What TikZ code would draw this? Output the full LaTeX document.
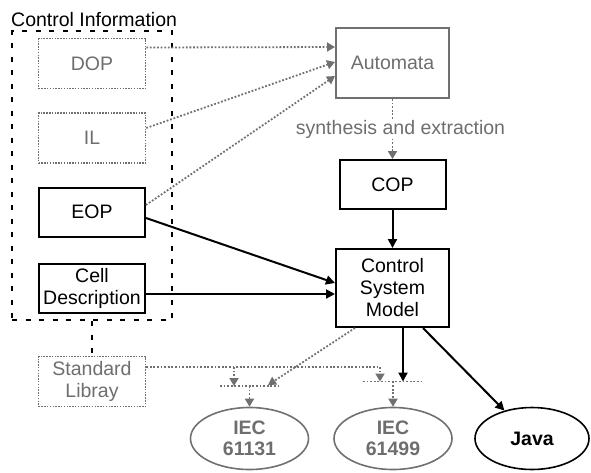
\documentclass[tikz,border=0pt]{standalone}
\usepackage{fontspec}
\setmainfont{Liberation Sans}
\usetikzlibrary{arrows.meta,shapes.geometric,calc}
\definecolor{tgray}{RGB}{110,110,110}
\definecolor{lgray}{RGB}{112,112,112}
\begin{document}
\begin{tikzpicture}[x=1pt,y=-1pt,
  font=\fontsize{19.5}{22}\selectfont,
  box/.style={draw=black,line width=2pt,rectangle,minimum width=106pt,minimum height=49pt,inner sep=1pt,align=center},
  gbox/.style={draw=lgray,line width=1.5pt,dash pattern=on 1.5pt off 1.3pt,rectangle,minimum width=107pt,minimum height=50pt,inner sep=1pt,align=center,text=tgray},
  ell/.style={ellipse,line width=1.6pt,minimum width=118pt,minimum height=62pt,inner sep=0pt,align=center,font=\fontsize{19.5}{21}\selectfont\bfseries},
  blk/.style={line width=2pt,-{Triangle[length=9pt,width=9pt]}},
  gdot/.style={draw=lgray,line width=1.8pt,dash pattern=on 1.8pt off 1.8pt},
  garr/.style={gdot,-{Triangle[length=8pt,width=9pt,fill=lgray]}},
  odash/.style={line width=2pt,dash pattern=on 5pt off 8.5pt}
]
\useasboundingbox (0,0) rectangle (591,472);

% Control information group
\node[anchor=base west,inner sep=0pt] (cilabel) at (11,26) {Control Information};
\node[draw,odash,rectangle,minimum width=160pt,minimum height=289pt,inner sep=0pt] (ci) at (92,175.5) {};

\node[gbox] (dop) at (92,63.5) {DOP};
\node[gbox] (il) at (92,138) {IL};
\node[box] (eop) at (92,212) {EOP};
\node[box] (cell) at (92,288) {Cell\\Description};
\node[gbox] (std) at (92,381.5) {Standard\\Libray};

\node[draw=lgray,line width=2pt,rectangle,minimum width=113pt,minimum height=70pt,text=tgray] (aut) at (392.5,63) {Automata};
\node[box] (cop) at (392.5,184.5) {COP};
\node[box,minimum width=113pt,minimum height=78pt] (csm) at (392.5,288) {Control\\System\\Model};

\node[ell,draw=lgray,text=tgray] (iec1) at (249.5,438.5) {IEC\\61131};
\node[ell,draw=lgray,text=tgray] (iec2) at (393,438.5) {IEC\\61499};
\node[ell,draw=black,minimum width=114pt] (java) at (532,438.5) {Java};

% dotted inputs to Automata
\draw[garr] ([yshift=16pt]dop.east) -- ([yshift=16pt]aut.west);
\draw[garr] ([yshift=10pt]il.east) -- ([yshift=1pt]aut.west);
\draw[garr] ([yshift=7pt]eop.east) -- ([yshift=-13pt]aut.west);

% synthesis
\draw[garr] (aut.south) -- node[fill=white,text=tgray,inner sep=1pt,xshift=8pt] (synlabel) {synthesis and extraction} (cop.north);
\draw[blk] (cop.south) -- (csm.north);

% solid inputs to CSM
\draw[blk] ([yshift=-6pt]eop.east) -- ([yshift=5pt]csm.west);
\draw[blk] ([yshift=-6pt]cell.east) -- ([yshift=-6pt]csm.west);

% group to standard library
\draw[odash] (ci.south) -- (std.north);

% bars
\coordinate (b1l) at (220,386);
\coordinate (b1r) at (280,386);
\coordinate (b1m) at (249.5,386);
\coordinate (b2l) at (363,381.5);
\coordinate (b2r) at (423,381.5);
\coordinate (b2m) at (393,381.5);
\draw[gdot] (b1l) -- (b1r);
\draw[gdot] (b2l) -- (b2r);
\draw[garr] (b1m) -- (iec1.north);
\draw[garr] (b2m) -- (iec2.north);

% standard library line
\coordinate (s1) at (234,367);
\coordinate (s2) at (380,367);
\draw[gdot] ([yshift=14.5pt]std.east) -- (s2);
\draw[garr] (s1) -- (s1 |- b1l);
\draw[garr] (s2) -- (s2 |- b2l);

% from control system model
\draw[garr] ([xshift=-37.5pt]csm.south) -- (268,385);
\draw[blk] ([xshift=10.5pt]csm.south) -- ([xshift=10.5pt]csm.south |- b2l);
\draw[blk] ([xshift=30.5pt]csm.south) -- (java);
\end{tikzpicture}
\end{document}
